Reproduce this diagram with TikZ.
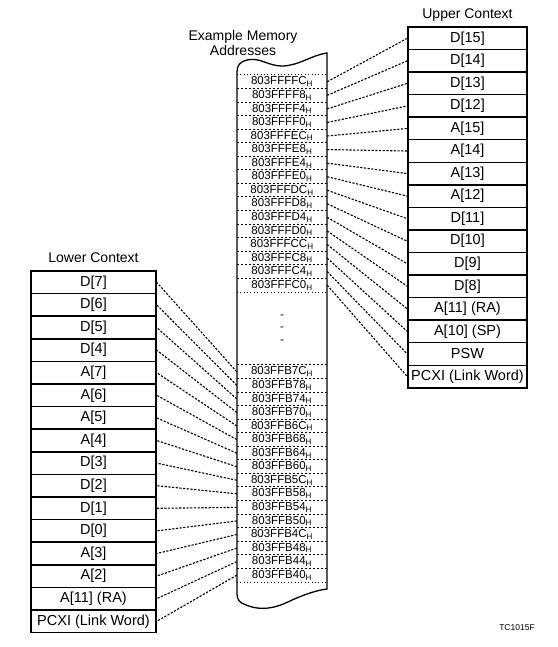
\documentclass[tikz,border=0pt]{standalone}
\usepackage{fontspec}
\setmainfont{Liberation Sans}
\begin{document}
\begin{tikzpicture}[x=1pt,y=-1pt,
  ctx/.style={draw, line width=1.4pt, minimum height=22.55pt, inner sep=0pt, font=\fontsize{14.5}{16}\selectfont},
  upctx/.style={ctx, minimum width=119pt},
  lowctx/.style={ctx, minimum width=125pt},
  mem/.style={minimum width=90pt, minimum height=13.56pt, inner sep=0pt, font=\fontsize{11.5}{12}\selectfont},
  conn/.style={line width=1.1pt, dash pattern=on 2.2pt off 1.5pt},
  sep/.style={line width=0.7pt, dash pattern=on 2.5pt off 1.5pt},
  dots/.style={line width=1.1pt, dash pattern=on 1pt off 2.4pt},
  title/.style={font=\fontsize{14}{15}\selectfont, inner sep=0pt}]
\useasboundingbox (0,0) rectangle (557,647);

% memory column outline
\draw[line width=1.3pt] (237,72) .. controls (237,65) and (240,62) .. (247,60)
  .. controls (260,57) and (268,66) .. (282,66)
  .. controls (298,66) and (312,55) .. (327,53)
  -- (327,589)
  .. controls (318,590) and (305,594) .. (290,601)
  .. controls (272,610) and (258,610) .. (246,605)
  .. controls (240,603) and (237,600) .. (237,594) -- cycle;

% upper memory rows
\foreach \t [count=\i from 0] in {FC,F8,F4,F0,EC,E8,E4,E0,DC,D8,D4,D0,CC,C8,C4,C0}
  \node[mem] (mu\i) at (282,{75+13.56*(\i+0.5)}) {803FFF\t\textsubscript{H}};
% lower memory rows
\foreach \t [count=\i from 0] in {7C,78,74,70,6C,68,64,60,5C,58,54,50,4C,48,44,40}
  \node[mem] (ml\i) at (282,{365+13.56*(\i+0.5)}) {803FFB\t\textsubscript{H}};

% separators
\draw[dots] (mu0.north west) -- (mu0.north east);
\foreach \i in {1,...,15} \draw[sep] (mu\i.north west) -- (mu\i.north east);
\draw[dots] (mu15.south west) -- (mu15.south east);
\foreach \i in {0,...,15} \draw[sep] (ml\i.north west) -- (ml\i.north east);
\draw[dots] (ml15.south west) -- (ml15.south east);

% ellipsis dashes
\node[mem, minimum height=0pt] (d1) at (282,317) {-};
\node[mem, minimum height=0pt] (d2) at (282,329) {-};
\node[mem, minimum height=0pt] (d3) at (282,342) {-};

% upper context
\node[title] (uptitle) at (467.5,15) {Upper Context};
\foreach \t [count=\i from 0] in {D[15],D[14],D[13],D[12],A[15],A[14],A[13],A[12],D[11],D[10],D[9],D[8],{A[11] (RA)},{A[10] (SP)},PSW,{PCXI (Link Word)}}
  \node[upctx] (u\i) at (467.5,{27+22.55*(\i+0.5)}) {\t};

% lower context
\node[title] (lowtitle) at (93.5,258) {Lower Context};
\foreach \t [count=\i from 0] in {D[7],D[6],D[5],D[4],A[7],A[6],A[5],A[4],D[3],D[2],D[1],D[0],A[3],A[2],{A[11] (RA)},{PCXI (Link Word)}}
  \node[lowctx] (l\i) at (93.5,{271+22.6*(\i+0.5)}) {\t};

% connectors
\foreach \i in {0,...,15} {
  \draw[conn] (mu\i.east) -- (u\i.west);
  \draw[conn] (ml\i.west) -- (l\i.east);
}

% titles
\node[title, align=center] (memtitle) at (243,42.5) {Example Memory\\Addresses};
\node[font=\fontsize{8.5}{10}\selectfont] (tc) at (517,628) {TC1015F};
\end{tikzpicture}
\end{document}
